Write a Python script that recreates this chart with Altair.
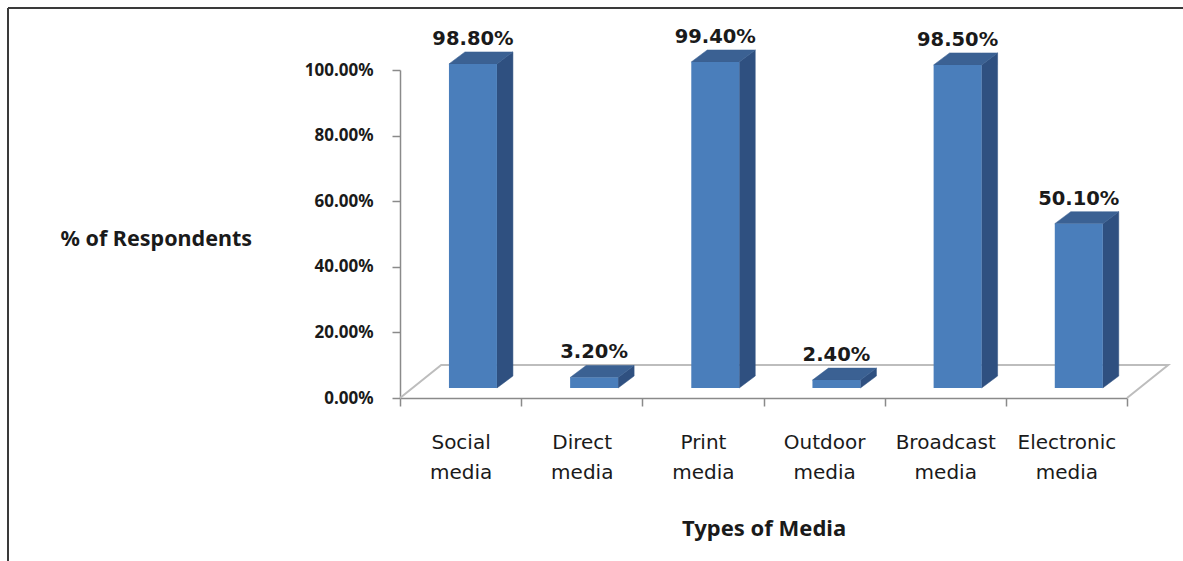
import altair as alt
import pandas as pd

# ---- data ----
categories = ["Social media", "Direct media", "Print media", "Outdoor media",
              "Broadcast media", "Electronic media"]
values = [98.8, 3.2, 99.4, 2.4, 98.5, 50.1]
y_ticks = [0, 20, 40, 60, 80, 100]

# ---- 3D styling constants (in scale units) ----
FL, FR = 0.404, 0.80      # front face left/right inside each category slot
DX, DY = 0.132, 3.66      # depth shift of bar (x units / y units)
B = 3.05                  # lift of bar front face above floor front edge
FLOOR_DX, FLOOR_D = 0.34, 10.06

FRONT = "#4a7ebb"
TOP = "#3b6193"
SIDE = "#2f5080"

n = len(categories)

front_df = pd.DataFrame({
    "x": [i + FL for i in range(n)],
    "x2": [i + FR for i in range(n)],
    "y": [B] * n,
    "y2": [v + B for v in values],
})

side_rows, top_rows = [], []
for i, v in enumerate(values):
    side_rows.append({"k": i, "x": i + FR, "lo": B, "hi": v + B})
    side_rows.append({"k": i, "x": i + FR + DX, "lo": B + DY, "hi": v + B + DY})
    t = v + B
    top_rows += [
        {"k": i, "x": i + FL, "lo": t, "hi": t},
        {"k": i, "x": i + FL + DX, "lo": t, "hi": t + DY},
        {"k": i, "x": i + FR, "lo": t, "hi": t + DY},
        {"k": i, "x": i + FR + DX, "lo": t + DY, "hi": t + DY},
    ]
side_df = pd.DataFrame(side_rows)
top_df = pd.DataFrame(top_rows)

label_df = pd.DataFrame({
    "x": [i + (FL + FR) / 2 for i in range(n)],
    "y": [v + B + DY for v in values],
    "v": values,
})

floor_df = pd.DataFrame({
    "o": [0, 1, 2, 3],
    "x": [0, FLOOR_DX, n + FLOOR_DX, n],
    "y": [0, FLOOR_D, FLOOR_D, 0],
})

xscale = alt.Scale(domain=[0, n], nice=False, zero=False)
yscale = alt.Scale(domain=[0, 100], nice=False, zero=True)

yaxis = alt.Axis(values=y_ticks, labelExpr="format(datum.value/100, '.2%')",
                 grid=False, tickSize=8, tickColor="#8a8a8a", tickWidth=1.5,
                 domainColor="#8a8a8a", domainWidth=1.5, labelPadding=19,
                 labelFont="Noto Sans", labelFontWeight="bold", labelFontSize=17,
                 labelColor="#1a1a1a",
                 title="% of Respondents", titleAngle=0, titleAlign="left",
                 titleX=-340, titleY=175, titleBaseline="alphabetic",
                 titleFont="Noto Sans", titleFontWeight="bold", titleFontSize=21.5,
                 titleColor="#1a1a1a")

xaxis_ticks = alt.Axis(orient="bottom", values=list(range(n + 1)), labels=False,
                       grid=False, tickSize=8, tickColor="#8a8a8a", tickWidth=1.5,
                       domainColor="#8a8a8a", domainWidth=1.5, title=None)

cat_expr = "[" + ",".join("'" + c + "'" for c in categories) + "]"
xaxis_labels = alt.Axis(orient="bottom", values=[i + 0.5 for i in range(n)],
                        labelExpr="split(" + cat_expr + "[floor(datum.value)], ' ')",
                        ticks=False, tickSize=0, domain=False, grid=False,
                        labelPadding=34, labelFont="DejaVu Sans", labelFontSize=20,
                        labelColor="#1a1a1a", labelLineHeight=30,
                        title="Types of Media", titleFont="Noto Sans",
                        titleFontWeight="bold", titleFontSize=22, titleColor="#1a1a1a",
                        titleY=137, titleBaseline="alphabetic")

floor = alt.Chart(floor_df).mark_line(color="#bdbdbd", strokeWidth=2).encode(
    x=alt.X("x:Q", scale=xscale, axis=xaxis_ticks),
    y=alt.Y("y:Q", scale=yscale, axis=yaxis),
    order="o:O",
)

side = alt.Chart(side_df).mark_area(color=SIDE, orient="vertical", stroke=SIDE,
                                    strokeWidth=0.5).encode(
    x=alt.X("x:Q", scale=xscale, axis=None),
    y=alt.Y("lo:Q", scale=yscale, axis=yaxis),
    y2="hi:Q",
    detail="k:N",
)

top = alt.Chart(top_df).mark_area(color=TOP, orient="vertical", stroke=TOP,
                                  strokeWidth=0.5).encode(
    x=alt.X("x:Q", scale=xscale, axis=None),
    y=alt.Y("lo:Q", scale=yscale, axis=yaxis),
    y2="hi:Q",
    detail="k:N",
)

front = alt.Chart(front_df).mark_rect(color=FRONT).encode(
    x=alt.X("x:Q", scale=xscale, axis=xaxis_labels),
    x2="x2:Q",
    y=alt.Y("y:Q", scale=yscale, axis=yaxis),
    y2="y2:Q",
)

labels = alt.Chart(label_df).transform_calculate(
    vt="format(datum.v/100, '.2%')"
).mark_text(font="DejaVu Sans", fontWeight="bold", fontSize=19.5, color="#1a1a1a",
            baseline="alphabetic", dy=-7).encode(
    x=alt.X("x:Q", scale=xscale, axis=None),
    y=alt.Y("y:Q", scale=yscale, axis=yaxis),
    text="vt:N",
)

frame_df = pd.DataFrame({"a": [0]})
frame_top = alt.Chart(frame_df).mark_rule(color="#3a3a3a", strokeWidth=2).encode(
    x=alt.value(-392), x2=alt.value(800), y=alt.value(-62))
frame_left = alt.Chart(frame_df).mark_rule(color="#3a3a3a", strokeWidth=2).encode(
    x=alt.value(-392), y=alt.value(-62), y2=alt.value(500))

chart = alt.layer(floor, side, top, front, labels, frame_top, frame_left).resolve_axis(
    x="independent"
).properties(
    width=727, height=328,
    autosize=alt.AutoSizeParams(type="none"),
    padding={"left": 400, "top": 70, "right": 56, "bottom": 163},
    background="white",
).configure_view(stroke=None)

chart.save("out.html", embed_options={"renderer": "svg", "actions": False})
